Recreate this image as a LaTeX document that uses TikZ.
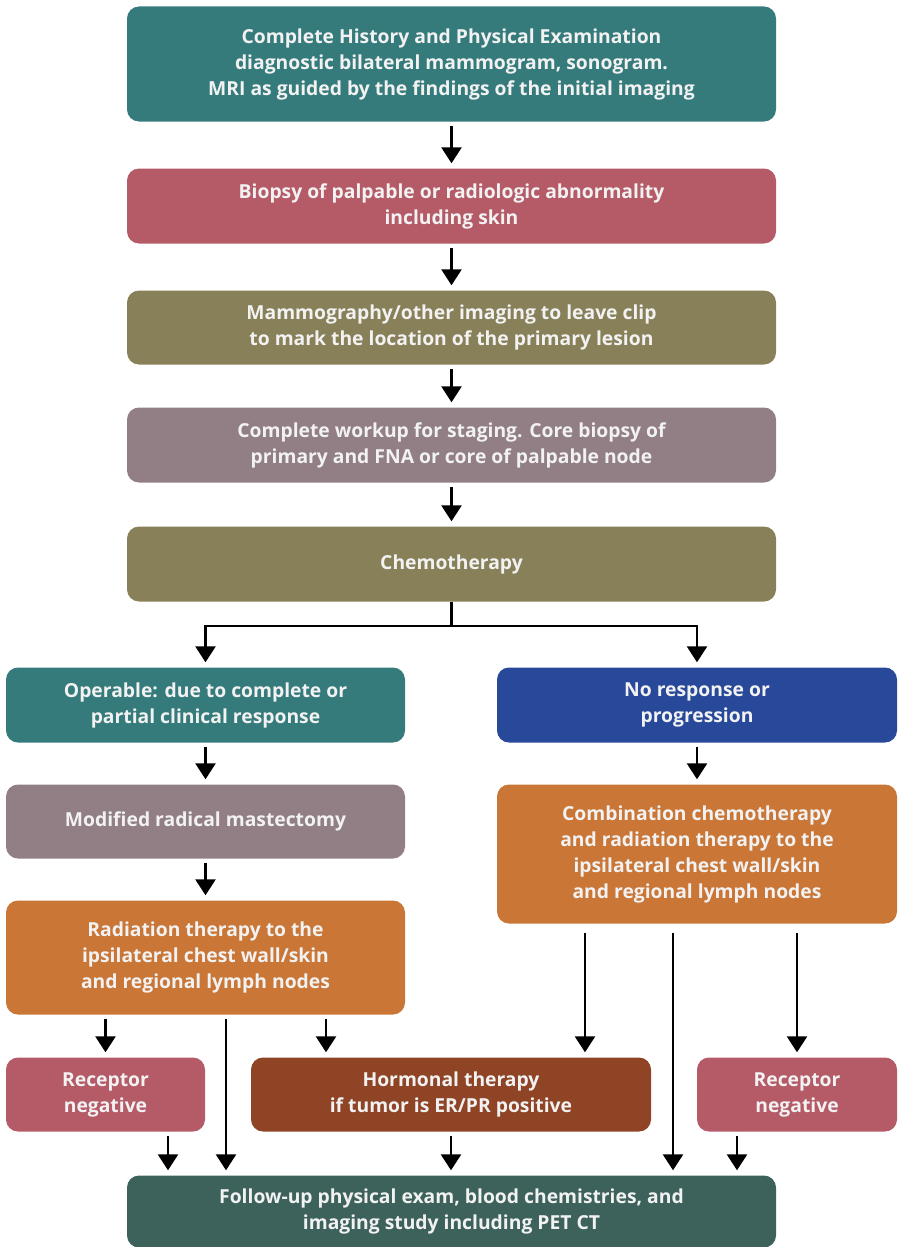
\documentclass[tikz,border=0pt]{standalone}
\usepackage{fontspec}
\setmainfont{Open Sans}
\usetikzlibrary{arrows.meta}
\definecolor{cteal}{HTML}{367B7C}
\definecolor{cpink}{HTML}{B55B67}
\definecolor{colive}{HTML}{888059}
\definecolor{cmauve}{HTML}{917F85}
\definecolor{cblue}{HTML}{28499A}
\definecolor{corange}{HTML}{C97636}
\definecolor{cbrown}{HTML}{8F4426}
\definecolor{cdark}{HTML}{3D625C}
\definecolor{ctext}{HTML}{F2F2F2}
\begin{document}
\begin{tikzpicture}[x=1pt,y=-1pt,
  box/.style={rectangle, rounded corners=12pt, text=ctext, align=center,
    font=\fontsize{19.3}{26}\selectfont\bfseries, inner sep=0pt},
  wide/.style={box, minimum width=649pt},
  half/.style={box, minimum width=399pt},
  small/.style={box, minimum width=199pt},
  arr/.style={line width=2.6pt, -{Triangle[width=20pt,length=16pt]},
    shorten <=4pt, shorten >=5pt},
  link/.style={line width=2.6pt}]
\useasboundingbox (0,0) rectangle (899,1247);

% main column
\node[wide, fill=cteal, minimum height=115pt] (hist) at (451.5,64)
  {Complete History and Physical Examination\\diagnostic bilateral mammogram, sonogram.\\MRI as guided by the findings of the initial imaging};
\node[wide, fill=cpink, minimum height=75pt] (biopsy) at (451.5,206)
  {Biopsy of palpable or radiologic abnormality\\including skin};
\node[wide, fill=colive, minimum height=74pt] (clip) at (451.5,327.5)
  {Mammography/other imaging to leave clip\\to mark the location of the primary lesion};
\node[wide, fill=cmauve, minimum height=75pt] (workup) at (451.5,445)
  {Complete workup for staging. Core biopsy of\\primary and FNA or core of palpable node};
\node[wide, fill=colive, minimum height=75pt] (chemo) at (451.5,564)
  {Chemotherapy};

% left branch
\node[half, fill=cteal, minimum height=75pt] (oper) at (205.5,705)
  {Operable: due to complete or\\partial clinical response};
\node[half, fill=cmauve, minimum height=74pt] (mrm) at (205.5,821.5)
  {Modified radical mastectomy};
\node[half, fill=corange, minimum height=114pt] (rad) at (205.5,957.5)
  {Radiation therapy to the\\ipsilateral chest wall/skin\\and regional lymph nodes};

% right branch
\node[half, minimum width=400pt, fill=cblue, minimum height=75pt] (nores) at (697,705)
  {No response or\\progression};
\node[half, minimum width=400pt, fill=corange, minimum height=139pt] (combo) at (697,854)
  {Combination chemotherapy\\and radiation therapy to the\\ipsilateral chest wall/skin\\and regional lymph nodes};

% bottom row
\node[small, fill=cpink, minimum height=74pt] (rnl) at (105.5,1094.5)
  {Receptor\\negative};
\node[half, minimum width=400pt, fill=cbrown, minimum height=74pt] (horm) at (451,1094.5)
  {Hormonal therapy\\if tumor is ER/PR positive};
\node[small, minimum width=200pt, fill=cpink, minimum height=74pt] (rnr) at (797,1094.5)
  {Receptor\\negative};
\node[wide, fill=cdark, minimum height=72pt] (follow) at (451.5,1211.5)
  {Follow-up physical exam, blood chemistries, and\\imaging study including PET CT};

% connectors of the main column
\draw[arr] (hist) -- (biopsy);
\draw[arr] (biopsy) -- (clip);
\draw[arr] (clip) -- (workup);
\draw[arr] (workup) -- (chemo);

% split after chemotherapy
\coordinate (split) at (451.5,626);
\draw[link] (chemo.south) -- (split);
\draw[arr, shorten <=0pt] (split) -| (oper.north);
\draw[arr, shorten <=0pt] (split) -| (nores.north);

\draw[arr] (oper) -- (mrm);
\draw[arr] (mrm) -- (rad);
\draw[arr] (nores) -- (combo);

% from radiation therapy
\draw[arr] (rad.south -| rnl.north) -- (rnl.north);
\draw[arr] ([xshift=20.5pt]rad.south) -- ([xshift=-225.5pt]follow.north);
\draw[arr] ([xshift=-125pt]horm.north |- rad.south) -- ([xshift=-125pt]horm.north);

% from combination therapy
\draw[arr, shorten <=9pt] ([xshift=134pt]horm.north |- combo.south) -- ([xshift=134pt]horm.north);
\draw[arr, shorten <=9pt] ([xshift=-24pt]combo.south) -- ([xshift=221.5pt]follow.north);
\draw[arr, shorten <=9pt] (combo.south -| rnr.north) -- (rnr.north);

% into follow-up
\draw[arr] ([xshift=62.5pt]rnl.south) -- ([xshift=-283.5pt]follow.north);
\draw[arr] (horm.south) -- (horm.south |- follow.north);
\draw[arr] ([xshift=-60pt]rnr.south) -- ([xshift=285.5pt]follow.north);
\end{tikzpicture}
\end{document}
